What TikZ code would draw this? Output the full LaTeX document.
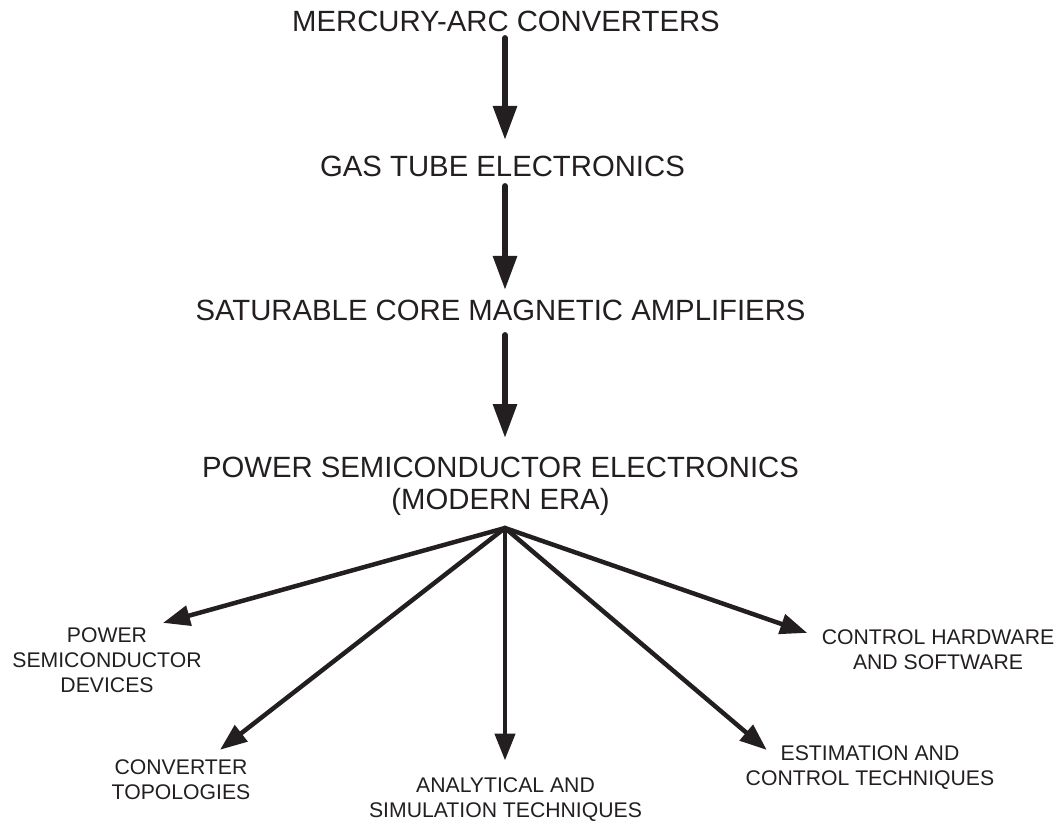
\documentclass[tikz,border=0pt]{standalone}
\usepackage{fontspec}
\setmainfont{Liberation Sans}
\usetikzlibrary{arrows.meta}
\definecolor{ink}{HTML}{231F20}
\begin{document}
\begin{tikzpicture}[x=1pt,y=-1pt,
  big/.style={font=\fontsize{29.3}{32.5}\selectfont, inner sep=0pt, text=ink, align=center},
  small/.style={font=\fontsize{21.2}{25}\selectfont, inner sep=0pt, text=ink, align=center},
  mainarrow/.style={draw=ink, line width=6pt, line cap=round, -{Triangle[length=34pt,width=23pt]}},
  fanarrow/.style={draw=ink, line width=4.5pt, line cap=round, -{Triangle[length=27pt,width=20pt]}}]
\useasboundingbox (0,0) rectangle (1058,822);
\coordinate (axis) at (505,0);
\coordinate (hub) at (505,528);
% main chain
\node[big] (m) at (506,21.5) {MERCURY-ARC CONVERTERS};
\node[big] (g) at (502.5,166) {GAS TUBE ELECTRONICS};
\node[big] (s) at (500.5,310) {SATURABLE CORE MAGNETIC AMPLIFIERS};
\node[big, anchor=north] (p) at (500.5,456.5) {POWER SEMICONDUCTOR ELECTRONICS\\(MODERN ERA)};
% branches
\node[small] (psd) at (107,660) {POWER\\SEMICONDUCTOR\\DEVICES};
\node[small] (ct) at (181,780) {CONVERTER\\TOPOLOGIES};
\node[small] (an) at (505.5,800) {ANALYTICAL AND\\SIMULATION TECHNIQUES};
\node[small] (est) at (870,767.5) {ESTIMATION AND\\CONTROL TECHNIQUES};
\node[small] (ch) at (938,649.5) {CONTROL HARDWARE\\AND SOFTWARE};
% vertical arrows
\draw[mainarrow, shorten <=6pt, shorten >=15.5pt] (m.south -| axis) -- (g.north -| axis);
\draw[mainarrow, shorten <=9.5pt, shorten >=9.5pt] (g.south -| axis) -- (s.north -| axis);
\draw[mainarrow, shorten <=14.5pt, shorten >=18.5pt] (s.south -| axis) -- (p.north -| axis);
% fan arrows
\draw[fanarrow] (hub) -- ([shift={(56,-4.4)}]psd.north);
\draw[fanarrow] (hub) -- ([shift={(39,-10)}]ct.north);
\draw[fanarrow] (hub) -- ([shift={(-0.5,-17.4)}]an.north);
\draw[fanarrow] (hub) -- ([shift={(21.25,4.6)}]est.north west);
\draw[fanarrow] (hub) -- ([shift={(-14.4,3.6)}]ch.north west);
\end{tikzpicture}
\end{document}
